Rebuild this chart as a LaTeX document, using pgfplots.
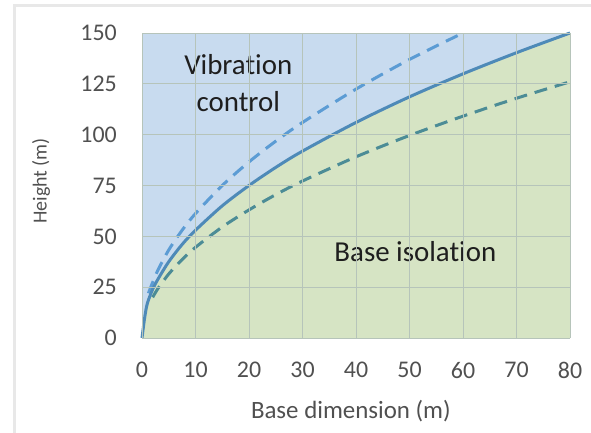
\documentclass[border=0pt]{standalone}
\usepackage{pgfplots}
\pgfplotsset{compat=1.18}
\usepackage{fontspec}
\setmainfont[Ligatures=NoCommon]{Carlito}
\definecolor{bgblue}{RGB}{200,219,239}
\definecolor{bggreen}{RGB}{214,228,196}
\definecolor{solidc}{RGB}{78,138,184}
\definecolor{upc}{RGB}{92,156,212}
\definecolor{lowc}{RGB}{76,140,150}
\definecolor{gridc}{RGB}{182,196,186}
\definecolor{tickc}{RGB}{80,80,80}
\definecolor{framegray}{RGB}{232,232,232}
\begin{document}
\begin{tikzpicture}
\path[use as bounding box] (0,0) rectangle (591bp,433bp);
\draw[line width=3bp, color=framegray] (14bp,0) -- (14bp,427bp) -- (591bp,427bp);
\begin{axis}[
  at={(142bp,95bp)}, anchor=south west,
  scale only axis, width=428bp, height=305bp,
  xmin=0, xmax=80, ymin=0, ymax=150,
  xtick={0,10,...,80}, ytick={0,25,...,150},
  major tick length=0pt,
  axis line style={draw=none},
  grid=major,
  major grid style={color=gridc, line width=0.9bp},
  axis background/.style={fill=bgblue},
  axis on top=true,
  /pgf/number format/assume math mode=true,
  tick label style={font=\fontsize{24}{28}\selectfont, text=tickc, inner sep=0pt},
  yticklabel style={anchor=east, xshift=-25bp},
  xticklabel style={anchor=north, yshift=-24bp},
  xlabel={Base dimension (m)},
  ylabel={Height (m)},
  xlabel style={font=\fontsize{25}{28}\selectfont, text=tickc, inner sep=0pt, at={(axis description cs:0.488,0)}, anchor=north, yshift=-62bp},
  ylabel style={font=\fontsize{20}{24}\selectfont, text=tickc, inner sep=0pt, at={(axis description cs:-0.236,0.515)}, anchor=center},
  clip=false,
]
\addplot[fill=bggreen, draw=none, smooth, tension=0.5] coordinates {
(0,0)(0.5,10)(1,17)(2,24)(3,29)(5,37.5)(7.5,46)(10,53)(15,65)(20,75)(25,83.9)(30,91.9)(40,106)(50,118.6)(60,129.9)(70,140.3)(80,150)
} \closedcycle;
\addplot[color=upc, line width=3bp, dash pattern=on 13bp off 8bp, smooth, tension=0.5] coordinates {
(1.2,22)(2,27.4)(3,33.5)(5,43.3)(7.5,53)(10,61.2)(15,75)(20,86.6)(25,96.8)(30,106)(40,122.4)(50,137)(60,150)
};
\addplot[color=lowc, line width=3bp, dash pattern=on 13bp off 8bp, smooth, tension=0.5] coordinates {
(2,20)(3,24.4)(5,31.5)(7.5,38.6)(10,44.6)(15,54.6)(20,63)(25,70.5)(30,77.2)(40,89.1)(50,99.6)(60,109.1)(70,117.9)(80,126)
};
\addplot[color=solidc, line width=3bp, smooth, tension=0.5] coordinates {
(0,0)(0.5,10)(1,17)(2,24)(3,29)(5,37.5)(7.5,46)(10,53)(15,65)(20,75)(25,83.9)(30,91.9)(40,106)(50,118.6)(60,129.9)(70,140.3)(80,150)
};
\node[font=\fontsize{29}{38}\selectfont, text={rgb,255:red,30;green,30;blue,30}, align=center] at (axis cs:18,125.4) {Vibration\\control};
\node[font=\fontsize{29}{34}\selectfont, text={rgb,255:red,30;green,30;blue,30}] at (axis cs:51.1,42.5) {Base isolation};
\end{axis}
\end{tikzpicture}
\end{document}
